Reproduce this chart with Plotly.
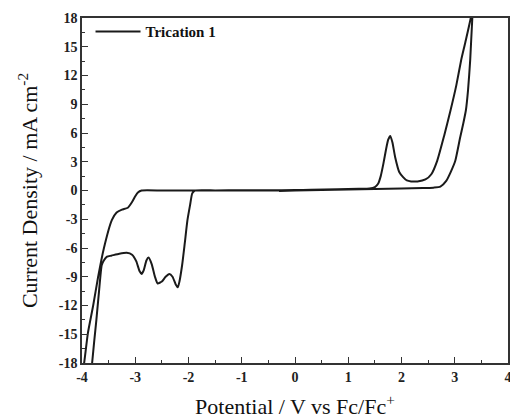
import plotly.graph_objects as go

# Cyclic voltammogram, Trication 1
potential = [
    -0.3, 0.0, 0.5, 1.0, 1.5, 2.0, 2.4, 2.6, 2.73, 2.84, 2.93, 3.01, 3.1, 3.16, 3.21, 3.25, 3.29, 3.33, 3.36,
    3.35, 3.3, 3.2, 3.12, 3.03, 2.92, 2.8, 2.67, 2.56, 2.45, 2.3, 2.18, 2.1, 2.03, 1.96, 1.88, 1.83, 1.79,
    1.75, 1.71, 1.66, 1.61, 1.56, 1.5, 1.4, 1.2, 0.8, 0.3, 0.0, -0.5, -1.0, -1.5, -1.88,
    -1.93, -1.97, -2.02, -2.07, -2.12, -2.17, -2.2, -2.24, -2.3, -2.36, -2.43, -2.5, -2.58, -2.63, -2.69, -2.75,
    -2.79, -2.84, -2.88, -2.92, -2.98, -3.06, -3.16, -3.3, -3.45, -3.53, -3.59, -3.63, -3.68, -3.73, -3.77,
    -3.81, -3.85,
    -4.02, -3.96, -3.89, -3.79, -3.7, -3.59, -3.44, -3.35, -3.25, -3.14, -3.06, -3.0, -2.95, -2.88, -2.5, -2.0,
    -1.5, -1.0, -0.3,
]
current = [
    -0.05, 0.0, 0.05, 0.1, 0.15, 0.2, 0.25, 0.3, 0.4, 1.0, 2.0, 3.1, 5.5, 7.0, 8.4, 10.5, 13.6, 18.0, 20.0,
    20.0, 18.0, 15.5, 13.6, 11.0, 8.35, 5.7, 3.1, 1.7, 1.15, 0.95, 0.95, 1.05, 1.4, 1.9, 3.5, 5.0, 5.7,
    5.3, 4.3, 2.8, 1.5, 0.7, 0.35, 0.2, 0.17, 0.12, 0.08, 0.05, 0.03, 0.02, 0.01, 0.0,
    -0.3, -1.5, -3.1, -5.5, -7.8, -9.5, -10.1, -9.8, -9.0, -8.7, -9.0, -9.5, -9.7, -9.0, -7.7, -7.0,
    -7.3, -8.3, -8.7, -8.4, -7.4, -6.7, -6.5, -6.6, -6.8, -6.9, -7.3, -7.8, -10.5, -13.5, -15.7,
    -18.0, -20.0,
    -20.0, -18.0, -14.9, -12.0, -9.1, -6.05, -3.1, -2.3, -2.0, -1.8, -1.2, -0.6, -0.2, 0.0, 0.0, 0.0,
    0.0, 0.0, 0.0,
]

x_ticks = [-4, -3, -2, -1, 0, 1, 2, 3, 4]
x_labels = ["-4", "-3", "-2", "-1", "0", "1", "2", "3", "4"]
y_ticks = [-18, -15, -12, -9, -6, -3, 0, 3, 6, 9, 12, 15, 18]
y_labels = ["-18", "-15", "-12", "-9", "-6", "-3", "0", "3", "6", "9", "12", "15", "18"]

serif = "Liberation Serif, Times New Roman, serif"

fig = go.Figure()
fig.add_trace(go.Scatter(
    x=potential, y=current, mode="lines", name="Trication 1",
    line=dict(color="#1a1a1a", width=2, shape="spline", smoothing=0.5),
))

axis_common = dict(
    showline=True, linecolor="#333333", linewidth=1.5, mirror=True,
    ticks="inside", ticklen=6, tickwidth=1.3, tickcolor="#333333",
    showgrid=False, zeroline=False, automargin=False, ticklabeloverflow="allow",
    tickfont=dict(family=serif, size=14, color="#222222", weight="bold"),
)

fig.update_xaxes(
    range=[-4, 4], tickmode="array", tickvals=x_ticks, ticktext=x_labels,
    minor=dict(ticks="inside", dtick=0.5, tick0=0, ticklen=3, tickwidth=1.3, tickcolor="#333333"),
    title=dict(text="Potential / V vs Fc/Fc<sup>+</sup>", font=dict(family=serif, size=22, color="#111111")),
    **axis_common,
)
fig.update_yaxes(
    range=[-18, 18], tickmode="array", tickvals=y_ticks, ticktext=y_labels,
    minor=dict(ticks="inside", dtick=1.5, tick0=0, ticklen=3, tickwidth=1.3, tickcolor="#333333"),
    title=dict(text="Current Density / mA cm<sup>-2</sup>", font=dict(family=serif, size=22, color="#111111")),
    **axis_common,
)

fig.update_layout(
    width=510, height=420,
    margin=dict(l=82, r=2, t=18, b=57),
    paper_bgcolor="white", plot_bgcolor="white",
    showlegend=True,
    legend=dict(
        x=0.02, y=1.008, xanchor="left", yanchor="top",
        bgcolor="rgba(0,0,0,0)", borderwidth=0, itemwidth=45,
        font=dict(family=serif, size=15, color="#111111", weight="bold"),
    ),
)

# remove the page's default body margin so the 510x420 figure fills the window exactly
fig.write_html(
    "out.html",
    config={"displayModeBar": False},
    post_script="document.body.style.margin='0';document.body.style.overflow='hidden';",
)
